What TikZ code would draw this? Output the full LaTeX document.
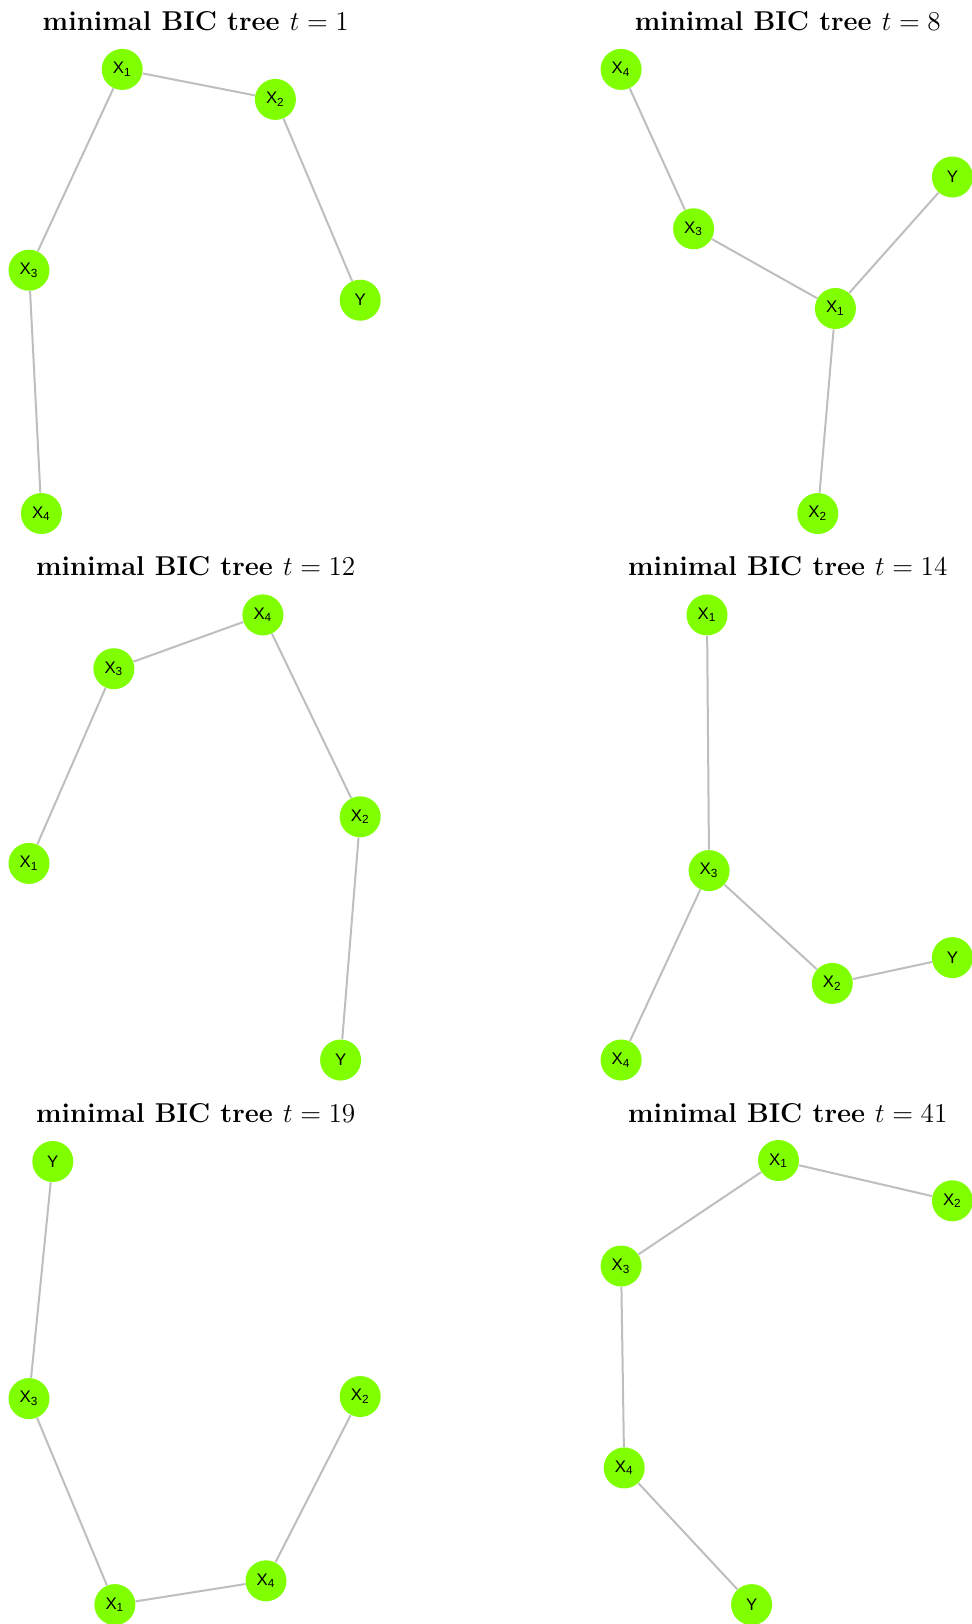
\documentclass[tikz,border=0pt]{standalone}
\usepackage{fontspec}
\newfontfamily\nodefont{Liberation Sans}
\definecolor{nodegreen}{RGB}{127,255,0}
\definecolor{edgegray}{RGB}{190,190,190}
\tikzset{
  vtx/.style={circle, fill=nodegreen, draw=none, minimum size=20.5pt, inner sep=0pt, font=\nodefont\fontsize{8.4}{9}\selectfont},
  edg/.style={draw=edgegray, line width=1pt},
  ttl/.style={font=\Large\bfseries, scale=0.946, inner sep=0pt}
}
\newcommand{\Xs}[1]{X\textsubscript{#1}}
\begin{document}
\begin{tikzpicture}[x=0.5pt,y=-0.5pt]
\useasboundingbox (0,0) rectangle (971,1624);
% panel 1
\node[ttl] (t1) at (195.7,21) {minimal BIC tree $t=1$};
\node[vtx] (a1) at (122.2,69.4) {\Xs1};
\node[vtx] (a2) at (275.4,99.4) {\Xs2};
\node[vtx] (a3) at (29,270.2) {\Xs3};
\node[vtx] (ay) at (360.2,300.2) {Y};
\node[vtx] (a4) at (41.4,513.5) {\Xs4};
\draw[edg] (a1) -- (a2); \draw[edg] (a2) -- (ay); \draw[edg] (a1) -- (a3); \draw[edg] (a3) -- (a4);
% panel 2
\node[ttl] (t2) at (787.8,21) {minimal BIC tree $t=8$};
\node[vtx] (b4) at (621.1,69.4) {\Xs4};
\node[vtx] (by) at (952.4,177) {Y};
\node[vtx] (b3) at (693.6,228.8) {\Xs3};
\node[vtx] (b1) at (835.4,308.5) {\Xs1};
\node[vtx] (b2) at (817.8,513.5) {\Xs2};
\draw[edg] (b4) -- (b3); \draw[edg] (b3) -- (b1); \draw[edg] (b1) -- (by); \draw[edg] (b1) -- (b2);
% panel 3
\node[ttl] (t3) at (195.7,566.3) {minimal BIC tree $t=12$};
\node[vtx] (c4) at (262.9,614.9) {\Xs4};
\node[vtx] (c3) at (113.9,668.7) {\Xs3};
\node[vtx] (c2) at (360.2,816.8) {\Xs2};
\node[vtx] (c1) at (29,863.4) {\Xs1};
\node[vtx] (cy) at (340.6,1060) {Y};
\draw[edg] (c3) -- (c4); \draw[edg] (c4) -- (c2); \draw[edg] (c2) -- (cy); \draw[edg] (c3) -- (c1);
% panel 4
\node[ttl] (t4) at (787.8,566.3) {minimal BIC tree $t=14$};
\node[vtx] (d1) at (707,614.9) {\Xs1};
\node[vtx] (d3) at (709.1,870.6) {\Xs3};
\node[vtx] (dy) at (952.4,957.6) {Y};
\node[vtx] (d2) at (832.3,983.4) {\Xs2};
\node[vtx] (d4) at (621.1,1060) {\Xs4};
\draw[edg] (d1) -- (d3); \draw[edg] (d3) -- (d4); \draw[edg] (d3) -- (d2); \draw[edg] (d2) -- (dy);
% panel 5
\node[ttl] (t5) at (195.7,1112.8) {minimal BIC tree $t=19$};
\node[vtx] (ey) at (52.8,1161.5) {Y};
\node[vtx] (e2) at (360.2,1396.5) {\Xs2};
\node[vtx] (e3) at (29,1398.6) {\Xs3};
\node[vtx] (e4) at (266,1580.8) {\Xs4};
\node[vtx] (e1) at (114.9,1604.6) {\Xs1};
\draw[edg] (ey) -- (e3); \draw[edg] (e3) -- (e1); \draw[edg] (e1) -- (e4); \draw[edg] (e4) -- (e2);
% panel 6
\node[ttl] (t6) at (787.8,1112.8) {minimal BIC tree $t=41$};
\node[vtx] (f1) at (778.5,1160.5) {\Xs1};
\node[vtx] (f2) at (952.4,1200.8) {\Xs2};
\node[vtx] (f3) at (621.1,1266) {\Xs3};
\node[vtx] (f4) at (624.2,1467.9) {\Xs4};
\node[vtx] (fy) at (751.6,1604.6) {Y};
\draw[edg] (f1) -- (f2); \draw[edg] (f1) -- (f3); \draw[edg] (f3) -- (f4); \draw[edg] (f4) -- (fy);
\end{tikzpicture}
\end{document}
